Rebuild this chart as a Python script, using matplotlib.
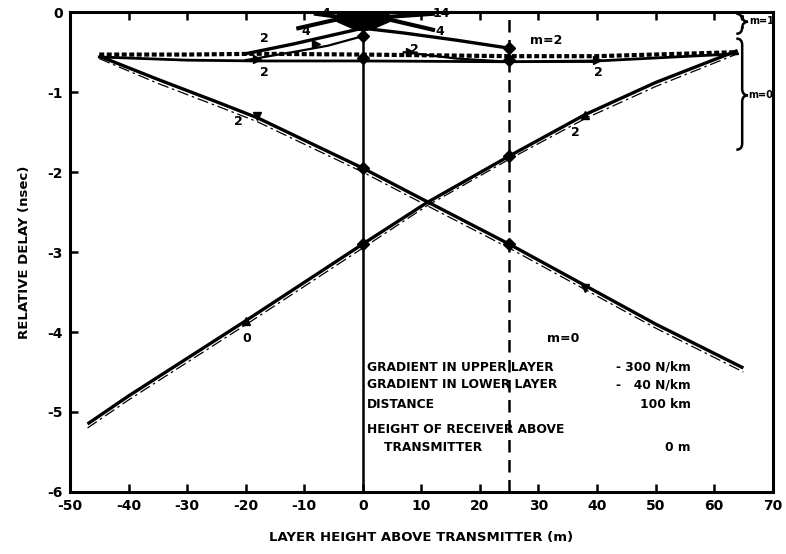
import matplotlib
matplotlib.use("Agg")
import matplotlib.pyplot as plt
from matplotlib.path import Path
from matplotlib.patches import PathPatch

plt.rcParams['font.family'] = ['DejaVu Sans']
plt.rcParams['font.weight'] = 'bold'

# ---- data ----
x_ticks = [-50, -40, -30, -20, -10, 0, 10, 20, 30, 40, 50, 60, 70]
x_tick_labels = ['-50', '-40', '-30', '-20', '-10', '0', '10', '20', '30', '40', '50', '60', '70']
y_ticks = [0, -1, -2, -3, -4, -5, -6]
y_tick_labels = ['0', '-1', '-2', '-3', '-4', '-5', '-6']

# m=0, rising branch
rise_x = [-47, -40, -30, -20, -10, 0, 11, 25, 38, 50, 64]
rise_y = [-5.15, -4.8, -4.33, -3.86, -3.38, -2.9, -2.38, -1.8, -1.28, -0.88, -0.48]
rise_approx_y = [-5.2, -4.85, -4.38, -3.91, -3.43, -2.95, -2.42, -1.84, -1.33, -0.93, -0.52]

# m=0, falling branch
fall_x = [-45, -35, -25, -18, -10, 0, 11, 25, 38, 50, 65]
fall_y = [-0.55, -0.84, -1.12, -1.32, -1.6, -1.95, -2.37, -2.9, -3.42, -3.9, -4.45]
fall_approx_y = [-0.58, -0.89, -1.17, -1.37, -1.65, -2.0, -2.42, -2.95, -3.47, -3.95, -4.5]

# near-horizontal m=0 rays
flat_x = [-45, -30, -18, 0, 25, 40, 64]
flat_top_y = [-0.53, -0.53, -0.52, -0.53, -0.55, -0.55, -0.5]
flat_low_y = [-0.56, -0.6, -0.61, -0.61, -0.62, -0.61, -0.52]

# m=2 rays
m2_left_x = [-20, -12, -6, 0]
m2_left_y = [-0.52, -0.4, -0.3, -0.2]
m2_left2_x = [-20, -12, -6, 0]
m2_left2_y = [-0.6, -0.5, -0.42, -0.3]
m2_right_x = [0, 7, 16, 25]
m2_right_y = [-0.2, -0.26, -0.35, -0.45]
m2_right2_x = [7, 16, 25, 40]
m2_right2_y = [-0.5, -0.58, -0.62, -0.62]

# m=1 cluster
m1_a_x = [-11, -5, 0, 5, 12]
m1_a_y = [-0.2, -0.1, -0.05, -0.1, -0.22]
m1_b_x = [-8, -4, 0, 4, 12]
m1_b_y = [-0.02, -0.06, -0.1, -0.06, -0.02]
blob_x = [-4.5, -2, 0, 2, 4.5]
blob_top = [0, 0, 0, 0, 0]
blob_bot = [-0.12, -0.2, -0.24, -0.2, -0.12]

# markers on the vertical lines
v0_y = [-0.3, -0.57, -1.95, -2.9]
v25_y = [-0.45, -0.6, -1.8, -2.9]

# labels
labels = [
    ('2', -22, -1.37), ('m=0', 31.5, -4.08), ('0', -20.5, -4.08), ('2', 35.5, -1.5),
    ('2', -17.5, -0.33), ('2', -17.5, -0.75), ('2', 8, -0.47), ('2', 39.5, -0.75),
    ('m=2', 28.5, -0.36), ('4', -7, -0.02), ('4', -10.5, -0.24), ('14', 12, -0.02),
    ('4', 12.5, -0.24),
]
info_lines = [
    ('GRADIENT IN UPPER LAYER', '- 300 N/km', -4.44),
    ('GRADIENT IN LOWER LAYER', '-   40 N/km', -4.66),
    ('DISTANCE', '100 km', -4.91),
    ('HEIGHT OF RECEIVER ABOVE', '', -5.22),
    ('    TRANSMITTER', '0 m', -5.45),
]

fig = plt.figure(figsize=(7.86, 5.54), dpi=100)
ax = fig.add_axes([0.089, 0.112, 0.894, 0.866])
ax.set_xlim(-50, 70)
ax.set_ylim(-6, 0)

# vertical reference lines
ax.axvline(0, color='black', lw=1.8)
ax.axvline(25, color='black', lw=1.8, ls=(0, (5, 3)))

# m=0 curves
ax.plot(rise_x, rise_y, color='black', lw=2.4, solid_capstyle='butt')
ax.plot(rise_x, rise_approx_y, color='black', lw=0.9, ls=(0, (9, 3, 2, 3)))
ax.plot(fall_x, fall_y, color='black', lw=2.4, solid_capstyle='butt')
ax.plot(fall_x, fall_approx_y, color='black', lw=0.9, ls=(0, (9, 3, 2, 3)))

# flat rays
ax.plot(flat_x, flat_top_y, color='black', lw=3.0, ls=(0, (1.2, 0.6)))
ax.plot(flat_x, flat_low_y, color='black', lw=2.0)

# m=2 rays
ax.plot(m2_left_x, m2_left_y, color='black', lw=2.4)
ax.plot(m2_left2_x, m2_left2_y, color='black', lw=1.6)
ax.plot(m2_right_x, m2_right_y, color='black', lw=2.4)
ax.plot(m2_right2_x, m2_right2_y, color='black', lw=1.6)

# m=1 cluster
ax.plot(m1_a_x, m1_a_y, color='black', lw=3.0)
ax.plot(m1_b_x, m1_b_y, color='black', lw=3.0)
ax.fill_between(blob_x, blob_bot, blob_top, color='black', lw=0)

# markers
ax.plot([0] * len(v0_y), v0_y, 'D', color='black', ms=6)
ax.plot([25] * len(v25_y), v25_y, 'D', color='black', ms=6)
ax.plot([-18, 38], [-1.3, -3.45], 'v', color='black', ms=6)
ax.plot([-20, 38], [-3.86, -1.28], '^', color='black', ms=6)
ax.plot([-18, 40, -8, 8], [-0.58, -0.6, -0.4, -0.5], '>', color='black', ms=6)

for txt, lx, ly in labels:
    ax.text(lx, ly, txt, fontsize=9, fontweight='bold', ha='left', va='center')

for left, right, yy in info_lines:
    ax.text(0.7, yy, left, fontsize=8.8, fontweight='bold', ha='left', va='center')
    if right:
        ax.text(56, yy, right, fontsize=8.8, fontweight='bold', ha='right', va='center')


def draw_brace(x0, y_top, y_bot, y_tip, width):
    xm = x0 + width * 0.5
    codes = [Path.MOVETO, Path.CURVE3, Path.CURVE3, Path.LINETO, Path.CURVE3, Path.CURVE3]
    v1 = [(x0, y_top), (xm, y_top), (xm, y_top - 0.08), (xm, y_tip + 0.08),
          (xm, y_tip), (x0 + width, y_tip)]
    v2 = [(x0 + width, y_tip), (xm, y_tip), (xm, y_tip - 0.08), (xm, y_bot + 0.08),
          (xm, y_bot), (x0, y_bot)]
    for v in (v1, v2):
        ax.add_patch(PathPatch(Path(v, codes), fill=False, lw=1.8, color='black'))


draw_brace(63.8, -0.02, -0.27, -0.12, 2.0)
draw_brace(63.8, -0.33, -1.72, -1.04, 2.0)
ax.text(66.0, -0.11, 'm=1', fontsize=7, fontweight='bold', ha='left', va='center')
ax.text(65.9, -1.04, 'm=0', fontsize=7, fontweight='bold', ha='left', va='center')

# axes styling
for s in ax.spines.values():
    s.set_linewidth(2.2)
ax.set_xticks(x_ticks)
ax.set_xticklabels(x_tick_labels)
ax.set_yticks(y_ticks)
ax.set_yticklabels(y_tick_labels)
ax.tick_params(axis='both', direction='in', length=6, width=1.8, labelsize=10, pad=5)
ax.tick_params(axis='x', top=True, labeltop=False)
for lab in ax.get_xticklabels() + ax.get_yticklabels():
    lab.set_fontweight('bold')

ax.set_xlabel('LAYER HEIGHT ABOVE TRANSMITTER (m)', fontsize=9.5, fontweight='bold', labelpad=13)
ax.set_ylabel('RELATIVE DELAY (nsec)', fontsize=9.5, fontweight='bold', labelpad=12)

fig.savefig('out.png', dpi=100)
